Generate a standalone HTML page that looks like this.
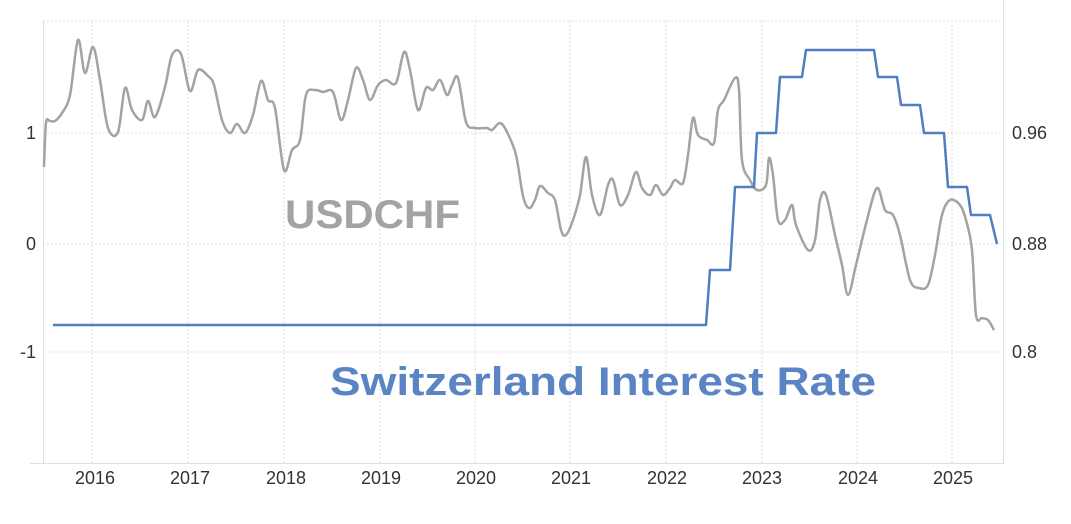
<!DOCTYPE html>
<html><head><style>body{margin:0;background:#fff}svg{display:block}</style></head><body>
<svg width="1071" height="524" xmlns="http://www.w3.org/2000/svg" font-family="Liberation Sans, sans-serif">
<g stroke="#ddd" stroke-dasharray="2,2" stroke-width="1">
<line x1="43" y1="21" x2="1003" y2="21"/><line x1="43" y1="133" x2="1003" y2="133"/><line x1="43" y1="244" x2="1003" y2="244"/><line x1="43" y1="352" x2="1003" y2="352"/>
<line x1="92" y1="21" x2="92" y2="463"/><line x1="188" y1="21" x2="188" y2="463"/><line x1="284" y1="21" x2="284" y2="463"/><line x1="380" y1="21" x2="380" y2="463"/><line x1="475" y1="21" x2="475" y2="463"/><line x1="570" y1="21" x2="570" y2="463"/><line x1="666" y1="21" x2="666" y2="463"/><line x1="762" y1="21" x2="762" y2="463"/><line x1="857" y1="21" x2="857" y2="463"/><line x1="952" y1="21" x2="952" y2="463"/>
</g>
<line x1="43.5" y1="21" x2="43.5" y2="464" stroke="#e0e0e0"/>
<line x1="1003.5" y1="0" x2="1003.5" y2="464" stroke="#e0e0e0"/>
<line x1="30" y1="463.5" x2="1003" y2="463.5" stroke="#e0e0e0"/>
<g font-size="18" fill="#333">
<text x="36" y="139" text-anchor="end">1</text><text x="36" y="250" text-anchor="end">0</text><text x="36" y="358" text-anchor="end">-1</text>
<text x="1012" y="139">0.96</text><text x="1012" y="250">0.88</text><text x="1012" y="358">0.8</text>
<g text-anchor="middle"><text x="95" y="484">2016</text><text x="190" y="484">2017</text><text x="286" y="484">2018</text><text x="381" y="484">2019</text><text x="476" y="484">2020</text><text x="571" y="484">2021</text><text x="667" y="484">2022</text><text x="762" y="484">2023</text><text x="858" y="484">2024</text><text x="953" y="484">2025</text></g>
</g>
<path id="g" fill="none" stroke="#a3a3a3" stroke-width="2.5" stroke-linejoin="round" d=""/>
<polyline fill="none" stroke="#4f7fc0" stroke-width="2.5" stroke-linejoin="round" points="53,325 706,325 710,270 730,270 735,187 754,187 757,133 776,133 780,77 802,77 806,50 874,50 878,77 897,77 901,105 920,105 924,133 944,133 948,187 967,187 971,215 990,215 997,244"/>
<text x="285" y="228" font-size="40" font-weight="bold" fill="#a3a3a3" textLength="175" lengthAdjust="spacingAndGlyphs">USDCHF</text>
<text x="330" y="395" font-size="40" font-weight="bold" fill="#5b84c4" textLength="546" lengthAdjust="spacingAndGlyphs">Switzerland Interest Rate</text>
</svg>
<script>
var s="44,167 46,123 50,121 55,121 62,113 70,95 78,40 85,73 93,47 100,80 108,128 118,132 125,88 132,110 142,120 148,101 155,117 165,87 172,55 181,54 190,91 198,70 208,76 214,85 222,120 230,133 237,124 245,133 253,115 261,81 268,100 275,108 284,170 292,150 300,140 306,95 315,90 323,92 333,92 341,120 348,100 356,68 363,80 370,100 378,85 386,80 396,83 404,52 410,70 418,110 426,88 433,90 440,80 447,95 452,85 458,78 466,122 475,128 487,128 492,130 500,123 507,132 516,155 523,196 529,208 535,200 540,186 548,193 555,200 561,230 566,235 573,220 580,195 586,157 592,195 600,215 608,185 613,180 620,205 628,195 636,172 642,188 650,195 656,185 663,195 670,188 675,180 683,183 688,155 693,118 698,135 707,140 714,143 718,110 724,100 735,78 739,90 742,160 750,180 757,190 766,185 769,158 773,175 778,220 785,220 792,205 796,225 808,250 815,240 820,200 826,195 835,235 842,265 848,295 856,265 867,220 877,188 885,210 893,215 900,235 910,280 919,288 928,285 935,255 942,215 950,200 960,205 966,220 972,250 976,315 982,318 988,320 994,330";
var p=s.split(" ").map(function(a){return a.split(",").map(Number)});
var d="M"+p[0][0]+","+p[0][1];
for(var i=0;i<p.length-1;i++){var a=p[i-1]||p[i],b=p[i],c=p[i+1],e=p[i+2]||c;
d+=" C"+(b[0]+(c[0]-a[0])/6)+","+(b[1]+(c[1]-a[1])/6)+" "+(c[0]-(e[0]-b[0])/6)+","+(c[1]-(e[1]-b[1])/6)+" "+c[0]+","+c[1];}
document.getElementById("g").setAttribute("d",d);
</script>
</body></html>
